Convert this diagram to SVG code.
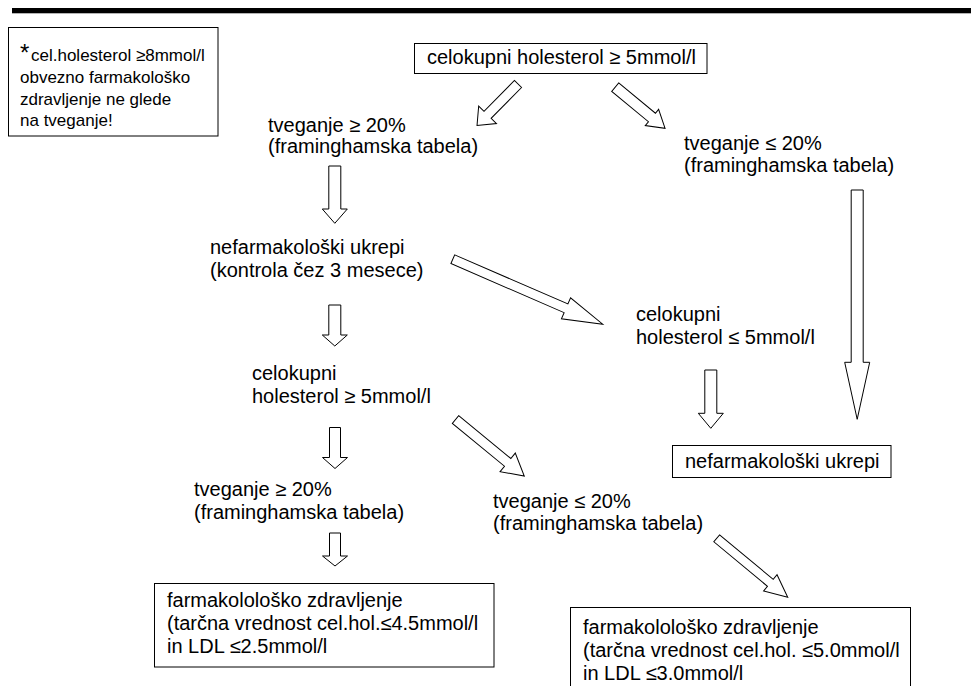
<svg xmlns="http://www.w3.org/2000/svg" width="971" height="686" viewBox="0 0 971 686">
<style>
.t{font-family:"Liberation Sans",Arial,sans-serif;font-size:20px;fill:#000}
.s{font-family:"Liberation Sans",Arial,sans-serif;font-size:17px;fill:#000}
.box{fill:#fff;stroke:#000;stroke-width:1}
.arr{fill:#fff;stroke:#000;stroke-width:1;stroke-linejoin:miter}
</style>
<rect width="971" height="686" fill="#fff"/>
<rect x="12" y="8" width="959" height="5.3" fill="#000"/>

<g id="note">
<rect class="box" x="8.5" y="27.5" width="209.5" height="108.5"/>
<text class="s" x="20" y="61"><tspan font-size="24">*</tspan></text>
<text class="s" x="31" y="61">cel.holesterol ≥8mmol/l</text>
<text class="s" x="20" y="83">obvezno farmakološko</text>
<text class="s" x="20" y="104.5">zdravljenje ne glede</text>
<text class="s" x="20" y="126">na tveganje!</text>
</g>

<g id="start">
<rect class="box" x="414.5" y="43.5" width="292.5" height="30"/>
<text class="t" x="427" y="64">celokupni holesterol ≥ 5mmol/l</text>
</g>

<g id="risk-high-1">
<text class="t" x="268" y="132">tveganje ≥ 20%</text>
<text class="t" x="268" y="153">(framinghamska tabela)</text>
</g>

<g id="risk-low-1">
<text class="t" x="684" y="150">tveganje ≤ 20%</text>
<text class="t" x="684" y="172">(framinghamska tabela)</text>
</g>

<g id="nonpharm-1">
<text class="t" x="210" y="254">nefarmakološki ukrepi</text>
<text class="t" x="210" y="277">(kontrola čez 3 mesece)</text>
</g>

<g id="chol-low">
<text class="t" x="636" y="321">celokupni</text>
<text class="t" x="636" y="344">holesterol ≤ 5mmol/l</text>
</g>

<g id="chol-high">
<text class="t" x="252" y="380">celokupni</text>
<text class="t" x="252" y="403">holesterol ≥ 5mmol/l</text>
</g>

<g id="nonpharm-2">
<rect class="box" x="672.5" y="445.5" width="218.5" height="32"/>
<text class="t" x="685" y="468">nefarmakološki ukrepi</text>
</g>

<g id="risk-high-2">
<text class="t" x="194" y="496">tveganje ≥ 20%</text>
<text class="t" x="194" y="519">(framinghamska tabela)</text>
</g>

<g id="risk-low-2">
<text class="t" x="493" y="508">tveganje ≤ 20%</text>
<text class="t" x="493" y="530">(framinghamska tabela)</text>
</g>

<g id="pharm-1">
<rect class="box" x="154.5" y="583.5" width="339.5" height="83.5"/>
<text class="t" x="167" y="607">farmakolološko zdravljenje</text>
<text class="t" x="167" y="630">(tarčna vrednost cel.hol.≤4.5mmol/l</text>
<text class="t" x="167" y="653">in LDL ≤2.5mmol/l</text>
</g>

<g id="pharm-2">
<rect class="box" x="570.5" y="607.5" width="340" height="100"/>
<text class="t" x="583" y="634">farmakolološko zdravljenje</text>
<text class="t" x="583" y="657">(tarčna vrednost cel.hol. ≤5.0mmol/l</text>
<text class="t" x="583" y="680">in LDL ≤3.0mmol/l</text>
</g>

<g id="connectors">
<path class="arr" transform="translate(518,84) rotate(134.65)" d="M0,-5 H43.3 V-12.5 L58.3,0 L43.3,12.5 V5 H0 Z"/>
<path class="arr" transform="translate(615.2,87.2) rotate(39.5)" d="M0,-5.5 H47.6 V-10.5 L64.6,0 L47.6,10.5 V5.5 H0 Z"/>
<path class="arr" transform="translate(334.8,166) rotate(90)" d="M0,-6 H43 V-12.5 L57.3,0 L43,12.5 V6 H0 Z"/>
<path class="arr" transform="translate(334.8,305) rotate(90)" d="M0,-6 H30 V-12.5 L41,0 L30,12.5 V6 H0 Z"/>
<path class="arr" transform="translate(335,427.5) rotate(90)" d="M0,-5.5 H30 V-12.5 L41,0 L30,12.5 V5.5 H0 Z"/>
<path class="arr" transform="translate(335,533) rotate(90)" d="M0,-5.5 H23 V-12.5 L33,0 L23,12.5 V5.5 H0 Z"/>
<path class="arr" transform="translate(452.8,259.2) rotate(23.45)" d="M0,-4.75 H123.4 V-11.5 L163.4,0 L123.4,11.5 V4.75 H0 Z"/>
<path class="arr" transform="translate(455.5,419.5) rotate(39.4)" d="M0,-5 H67.5 V-12 L89,0 L67.5,12 V5 H0 Z"/>
<path class="arr" transform="translate(716.7,538.3) rotate(39.7)" d="M0,-4.5 H69.7 V-10.5 L92.3,0 L69.7,10.5 V4.5 H0 Z"/>
<path class="arr" transform="translate(857.2,190) rotate(90)" d="M0,-6 H172.3 V-12.5 L229.3,0 L172.3,12.5 V6 H0 Z"/>
<path class="arr" transform="translate(710.8,370) rotate(90)" d="M0,-6 H43.3 V-12.5 L58.3,0 L43.3,12.5 V6 H0 Z"/>
</g>
</svg>
